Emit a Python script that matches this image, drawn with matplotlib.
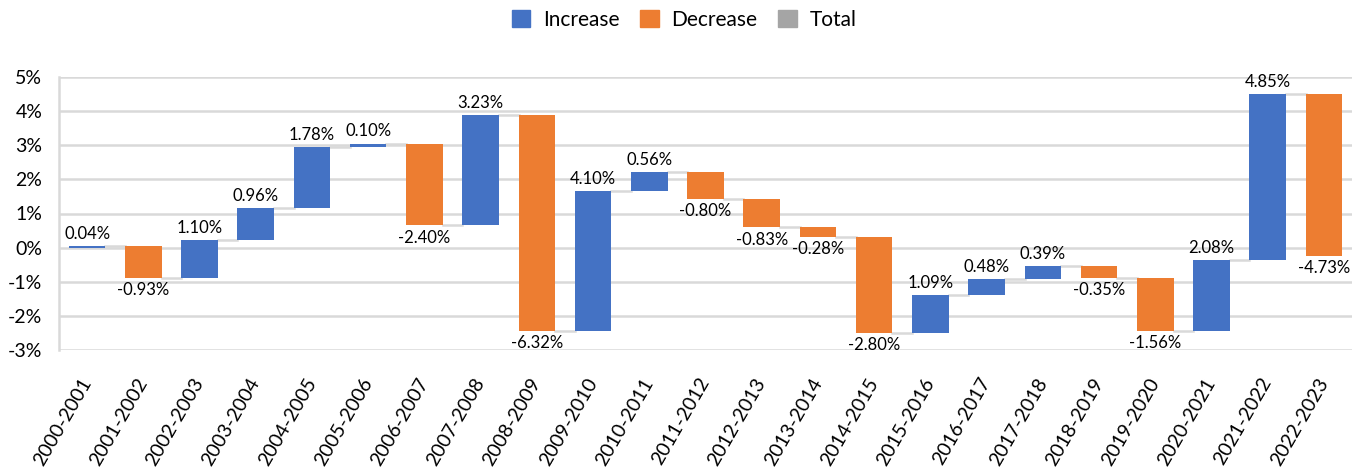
import matplotlib
matplotlib.use("Agg")
import matplotlib.pyplot as plt
from matplotlib.patches import Patch
from matplotlib.transforms import ScaledTranslation
import numpy as np

plt.rcParams['font.family'] = ['Lato', 'DejaVu Sans']

categories = ["2000-2001", "2001-2002", "2002-2003", "2003-2004", "2004-2005", "2005-2006",
              "2006-2007", "2007-2008", "2008-2009", "2009-2010", "2010-2011", "2011-2012",
              "2012-2013", "2013-2014", "2014-2015", "2015-2016", "2016-2017", "2017-2018",
              "2018-2019", "2019-2020", "2020-2021", "2021-2022", "2022-2023"]
changes = [0.04, -0.93, 1.10, 0.96, 1.78, 0.10, -2.40, 3.23, -6.32, 4.10, 0.56, -0.80,
           -0.83, -0.28, -2.80, 1.09, 0.48, 0.39, -0.35, -1.56, 2.08, 4.85, -4.73]
# bar end levels as drawn in the chart
levels = [0.04, -0.89, 0.21, 1.17, 2.95, 3.05, 0.65, 3.88, -2.44, 1.66, 2.22, 1.42,
          0.59, 0.31, -2.49, -1.40, -0.92, -0.53, -0.88, -2.44, -0.36, 4.49, -0.24]
yticks = list(range(-3, 6))

C_INC = "#4472C4"
C_DEC = "#ED7D31"
C_TOT = "#A5A5A5"
C_GRID = "#D9D9D9"

fig = plt.figure(figsize=(13.6, 4.7), dpi=100)
ax = fig.add_axes([59/1360, 1-350/470, (1352-59)/1360, (350-77)/470])

x = np.arange(len(categories))
w = 0.65
prev = 0.0
for i, (c, lv) in enumerate(zip(changes, levels)):
    start = prev
    bottom = min(start, lv)
    height = abs(lv - start)
    col = C_INC if c >= 0 else C_DEC
    ax.bar(x[i], height, bottom=bottom, width=w, color=col, zorder=3)
    if c >= 0:
        ax.annotate(f"{c:.2f}%", (x[i], max(start, lv)), xytext=(0, 3), textcoords='offset points',
                    ha='center', va='bottom', fontsize=12, color='black', zorder=4)
    else:
        ax.annotate(f"{c:.2f}%", (x[i], min(start, lv)), xytext=(0, -3), textcoords='offset points',
                    ha='center', va='top', fontsize=12, color='black', zorder=4)
    if i < len(categories) - 1:
        ax.plot([x[i] + w/2, x[i+1] - w/2], [lv, lv], color=C_GRID, lw=1.8, zorder=2)
    prev = lv

ax.set_xlim(-0.5, len(categories) - 0.5)
ax.set_ylim(-3, 5)
ax.set_yticks(yticks)
ax.set_yticklabels([f"{v}%" for v in yticks], fontsize=14)
ax.yaxis.grid(True, color=C_GRID, lw=1.8, zorder=0)
ax.set_axisbelow(True)
ax.set_xticks(x)
ax.set_xticklabels(categories, rotation=60, ha='right', va='center', rotation_mode='anchor', fontsize=14)
offset = ScaledTranslation(8/72, 0, fig.dpi_scale_trans)
for lab in ax.get_xticklabels():
    lab.set_transform(lab.get_transform() + offset)
ax.tick_params(axis='both', length=0, labelcolor='black')
ax.tick_params(axis='x', pad=21)
ax.tick_params(axis='y', pad=12)
for s in ['top', 'right', 'bottom']:
    ax.spines[s].set_visible(False)
ax.spines['left'].set_color(C_GRID)
ax.spines['left'].set_linewidth(1.8)

handles = [Patch(color=C_INC, label="Increase"), Patch(color=C_DEC, label="Decrease"),
           Patch(color=C_TOT, label="Total")]
fig.legend(handles=handles, loc='center', bbox_to_anchor=(684/1360, 1-20/470), ncol=3,
           frameon=False, fontsize=15, handlelength=0.9, handleheight=0.9, columnspacing=1.0,
           handletextpad=0.6)

fig.savefig("out.png", dpi=100)
